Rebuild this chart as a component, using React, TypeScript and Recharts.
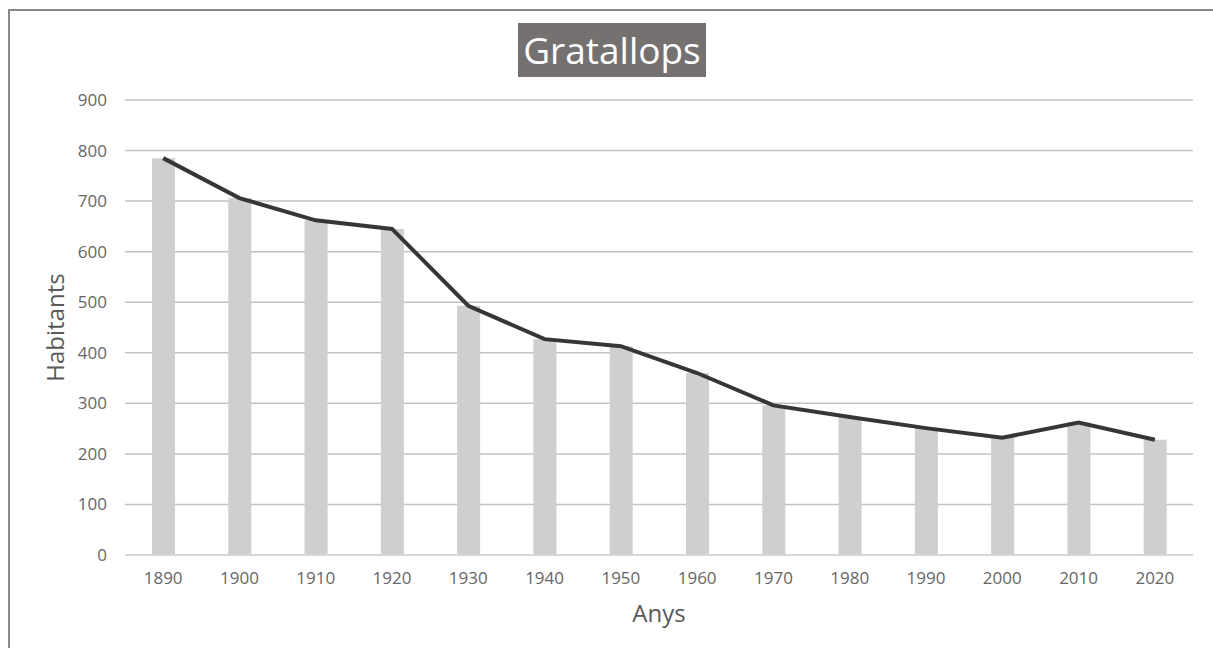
import React from 'react';
import { ComposedChart, Bar, Line, XAxis, YAxis, CartesianGrid, Label } from 'recharts';

const years = ['1890', '1900', '1910', '1920', '1930', '1940', '1950', '1960', '1970', '1980', '1990', '2000', '2010', '2020'];
const habitants = [785, 706, 662, 645, 493, 427, 413, 360, 296, 273, 251, 232, 262, 228];
const yTicks = [0, 100, 200, 300, 400, 500, 600, 700, 800, 900];

const data = years.map((y, i) => ({ year: y, bar: habitants[i], line: habitants[i] }));

const FONT = '"Open Sans", "Noto Sans", sans-serif';

export default function App() {
  return (
    <div style={{ position: 'fixed', left: 0, top: 0, width: 1213, height: 648, overflow: 'hidden', background: '#fff', fontFamily: FONT }}>
      <div style={{ position: 'absolute', left: 8, top: 9, width: 2000, height: 2000, borderTop: '2px solid #888', borderLeft: '2px solid #888' }} />
      <div style={{ position: 'absolute', left: 0, top: 0 }}>
        <ComposedChart width={1213} height={648} data={data} margin={{ top: 100, right: 20, bottom: 23, left: 45 }}>
          <CartesianGrid vertical={false} stroke="#c4c2c2" strokeWidth={1.5} />
          <XAxis
            dataKey="year"
            height={70}
            tickLine={false}
            tickSize={6}
            tickMargin={11}
            axisLine={{ stroke: '#d9d9d9', strokeWidth: 1.5 }}
            tick={{ fill: '#666', fontSize: 17, fontFamily: FONT }}
            interval={0}
          >
            <Label value="Anys" position="insideBottom" offset={3} style={{ fill: '#595959', fontSize: 24, fontFamily: FONT }} />
          </XAxis>
          <YAxis
            width={80}
            domain={[0, 900]}
            ticks={yTicks}
            tickLine={false}
            axisLine={false}
            tickSize={6}
            tickMargin={12}
            tick={{ fill: '#666', fontSize: 17, fontFamily: FONT }}
          >
            <Label value="Habitants" angle={-90} position="insideLeft" offset={10} style={{ fill: '#595959', fontSize: 24, fontFamily: FONT, textAnchor: 'middle' }} />
          </YAxis>
          <Bar dataKey="bar" fill="#d0cece" barSize={23} isAnimationActive={false} />
          <Line dataKey="line" type="linear" stroke="#363636" strokeWidth={4} dot={false} activeDot={false} isAnimationActive={false} />
        </ComposedChart>
      </div>
      <div style={{ position: 'absolute', left: 518, top: 23, width: 188, height: 54, background: '#767171', color: '#fff', fontSize: 37, lineHeight: '54px', textAlign: 'center', fontFamily: FONT }}>
        Gratallops
      </div>
    </div>
  );
}
